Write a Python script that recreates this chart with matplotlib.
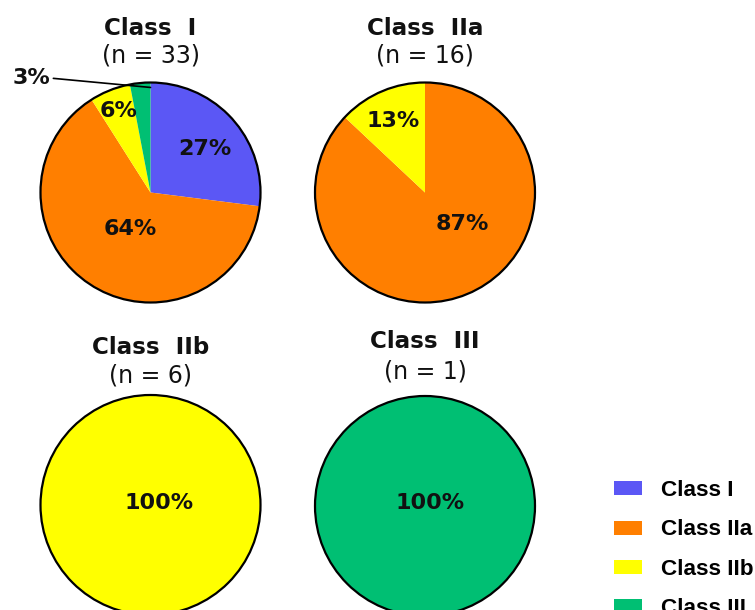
import numpy as np
import matplotlib.pyplot as plt
from matplotlib.patches import Circle, Patch

# Data
classes = ['Class I', 'Class IIa', 'Class IIb', 'Class III']
colors = ['#5b57f5', '#ff7f00', '#ffff00', '#00bf73']
panel_titles = ['Class  I', 'Class  IIa', 'Class  IIb', 'Class  III']
panel_n = [33, 16, 6, 1]
# share of each class (percent) inside every panel, order = classes
shares = [
    [27, 64, 6, 3],
    [0, 87, 13, 0],
    [0, 0, 100, 0],
    [0, 0, 0, 100],
]
# label positions in pie units (x, y); None = use leader line outside
label_pos = [
    [(0.49, 0.40), (-0.18, -0.33), (-0.29, 0.74), None],
    [None, (0.34, -0.29), (-0.29, 0.65), None],
    [None, None, (0.08, 0.02), None],
    [None, None, None, (0.05, 0.03)],
]

W, H = 755, 610
fig = plt.figure(figsize=(W / 100, H / 100), dpi=100)

centers = [(150.5, 192.5), (425, 192.5), (150.5, 505), (425, 506)]
title_y = [(28, 55), (28, 55), (347, 375), (342, 372)]
R = 110

for k, (cx, cy) in enumerate(centers):
    ax = fig.add_axes([(cx - R) / W, (H - cy - R) / H, 2 * R / W, 2 * R / H])
    vals = [v for v in shares[k] if v > 0]
    cols = [c for v, c in zip(shares[k], colors) if v > 0]
    ax.pie(vals, colors=cols, startangle=90, counterclock=False,
           wedgeprops=dict(linewidth=0))
    ax.add_patch(Circle((0, 0), 1, fill=False, lw=1.6, ec='black', clip_on=False))
    ax.set_xlim(-1, 1)
    ax.set_ylim(-1, 1)
    ax.set_aspect('equal')
    ax.axis('off')

    for v, pos in zip(shares[k], label_pos[k]):
        if v > 0 and pos is not None:
            ax.text(pos[0], pos[1], f'{v}%', ha='center', va='center',
                    fontsize=16, fontweight='bold', color='#111111')

    # titles
    ax.text(0, (cy - title_y[k][0]) / R, panel_titles[k], ha='center', va='center',
            fontsize=16.6, fontweight='bold', color='#111111', clip_on=False)
    ax.text(0, (cy - title_y[k][1]) / R, f'(n = {panel_n[k]})', ha='center', va='center',
            fontsize=17, color='#111111', clip_on=False)

    if k == 0:
        ax.annotate(f'{shares[0][3]}%', xy=(0, 0.955), xytext=(-1.08, 1.04),
                    ha='center', va='center', fontsize=16, fontweight='bold',
                    color='#111111', annotation_clip=False,
                    arrowprops=dict(arrowstyle='-', color='black', lw=1.2,
                                    shrinkA=0, shrinkB=0, relpos=(1.0, 0.5)))

handles = [Patch(facecolor=c, edgecolor='none') for c in colors]
fig.legend(handles, classes, loc='upper left', bbox_to_anchor=(614 / W, 1 - 480 / H),
           frameon=False, borderpad=0, borderaxespad=0,
           handlelength=1.25, handleheight=0.58, handletextpad=0.85, labelspacing=0.82,
           prop={'family': 'Liberation Sans', 'weight': 'bold', 'size': 16.2})

fig.savefig('out.png', dpi=100)
